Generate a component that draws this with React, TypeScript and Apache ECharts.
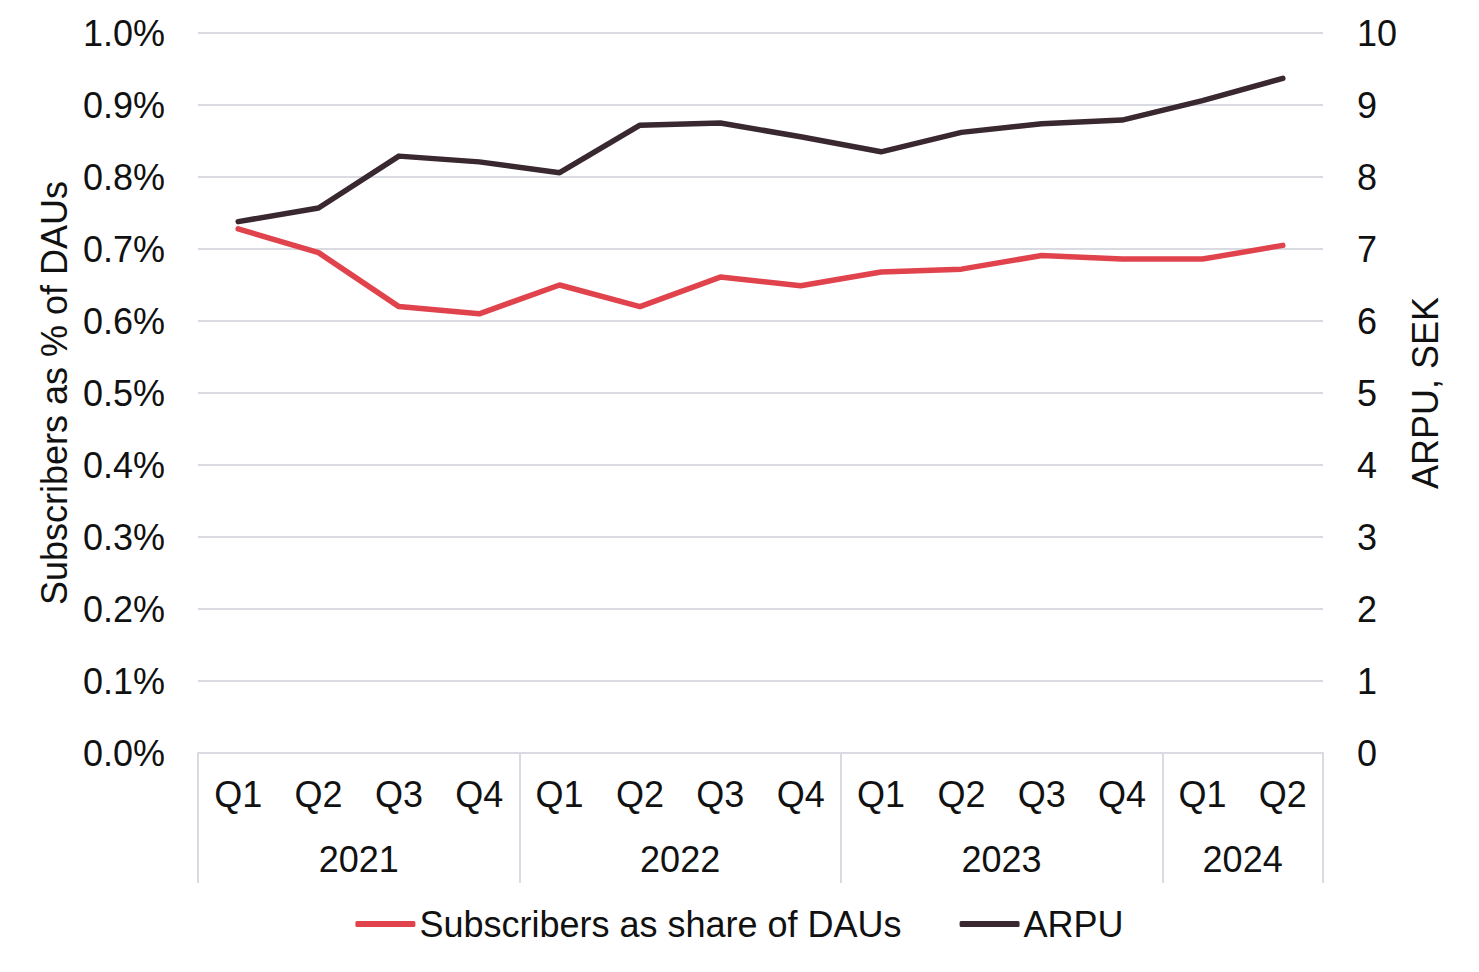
import React, { useEffect, useRef } from "react";
import * as echarts from "echarts";

const quarters = ["Q1", "Q2", "Q3", "Q4", "Q1", "Q2", "Q3", "Q4", "Q1", "Q2", "Q3", "Q4", "Q1", "Q2"];
const years = ["2021", "2022", "2023", "2024"];
const quartersPerYear = [4, 4, 4, 2];
const subscribersShare = [0.728, 0.695, 0.62, 0.61, 0.65, 0.62, 0.661, 0.649, 0.668, 0.672, 0.691, 0.686, 0.686, 0.705];
const arpu = [7.38, 7.57, 8.29, 8.21, 8.06, 8.72, 8.75, 8.56, 8.35, 8.62, 8.74, 8.79, 9.06, 9.37];
const leftTicks = { min: 0, max: 1.0, interval: 0.1 };
const rightTicks = { min: 0, max: 10, interval: 1 };

const FONT = "'Liberation Sans', Arial, sans-serif";
const FS = 36;
const GRID_COLOR = "#DADAE2";

export default function App() {
  const ref = useRef<HTMLDivElement>(null);

  useEffect(() => {
    if (!ref.current) return;
    const chart = echarts.init(ref.current, null, { renderer: "svg" });

    const n = quarters.length * 2 + 1;
    const yearLabels: string[] = new Array(n).fill("");
    const boundaryIdx: number[] = [0];
    let start = 0;
    years.forEach((y, i) => {
      const q = quartersPerYear[i];
      yearLabels[start * 2 + q] = y;
      start += q;
      boundaryIdx.push(start * 2);
    });

    chart.setOption({
      animation: false,
      grid: { left: 198, right: 156, top: 33, bottom: 219, containLabel: false },
      legend: {
        bottom: 25,
        left: "center",
        itemWidth: 60,
        itemHeight: 6,
        itemGap: 58,
        icon: "roundRect",
        textStyle: { fontSize: FS, fontFamily: FONT, color: "#111", padding: [0, 0, 0, -1] },
        data: ["Subscribers as share of DAUs", "ARPU"],
      },
      xAxis: [
        {
          type: "category",
          data: quarters,
          position: "bottom",
          boundaryGap: true,
          axisLine: { show: true, lineStyle: { color: GRID_COLOR, width: 2 } },
          axisTick: { show: false },
          axisLabel: { fontSize: FS, fontFamily: FONT, color: "#111", margin: 23, interval: 0 },
          splitLine: { show: false },
        },
        {
          type: "category",
          data: yearLabels,
          position: "bottom",
          offset: 0,
          boundaryGap: false,
          axisLine: { show: false },
          axisTick: {
            show: true,
            length: 130,
            interval: (index: number) => boundaryIdx.includes(index),
            lineStyle: { color: GRID_COLOR, width: 2 },
          },
          axisLabel: {
            fontSize: FS,
            fontFamily: FONT,
            color: "#111",
            margin: 88,
            interval: 0,
            showMinLabel: false,
            showMaxLabel: false,
          },
          splitLine: { show: false },
        },
      ],
      yAxis: [
        {
          type: "value",
          min: leftTicks.min,
          max: leftTicks.max,
          interval: leftTicks.interval,
          position: "left",
          name: "Subscribers as % of DAUs",
          nameLocation: "middle",
          nameRotate: 90,
          nameGap: 125,
          nameTextStyle: { fontSize: FS, fontFamily: FONT, color: "#111" },
          axisLine: { show: false },
          axisTick: { show: false },
          axisLabel: {
            fontSize: FS,
            fontFamily: FONT,
            color: "#111",
            margin: 33,
            formatter: (v: number) => v.toFixed(1) + "%",
          },
          splitLine: { show: true, lineStyle: { color: GRID_COLOR, width: 2 } },
        },
        {
          type: "value",
          min: rightTicks.min,
          max: rightTicks.max,
          interval: rightTicks.interval,
          position: "right",
          name: "ARPU, SEK",
          nameLocation: "middle",
          nameRotate: 90,
          nameGap: 84,
          nameTextStyle: { fontSize: FS, fontFamily: FONT, color: "#111" },
          axisLine: { show: false },
          axisTick: { show: false },
          axisLabel: { fontSize: FS, fontFamily: FONT, color: "#111", margin: 34 },
          splitLine: { show: false },
        },
      ],
      series: [
        {
          name: "Subscribers as share of DAUs",
          type: "line",
          xAxisIndex: 0,
          yAxisIndex: 0,
          data: subscribersShare,
          symbol: "none",
          lineStyle: { color: "#E0434B", width: 5.5, cap: "round", join: "round" },
          itemStyle: { color: "#E0434B" },
        },
        {
          name: "ARPU",
          type: "line",
          xAxisIndex: 0,
          yAxisIndex: 1,
          data: arpu,
          symbol: "none",
          lineStyle: { color: "#3A2830", width: 5.5, cap: "round", join: "round" },
          itemStyle: { color: "#3A2830" },
        },
      ],
    });

    return () => chart.dispose();
  }, []);

  return (
    <div
      ref={ref}
      style={{ position: "fixed", left: 0, top: 0, width: 1479, height: 972, background: "#fff" }}
    />
  );
}
